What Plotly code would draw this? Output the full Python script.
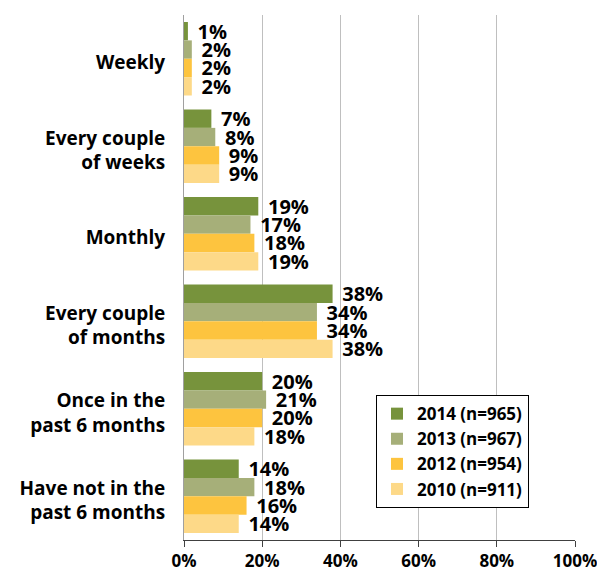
import plotly.graph_objects as go

categories = ["Weekly", "Every couple<br>of weeks", "Monthly", "Every couple<br>of months",
              "Once in the<br>past 6 months", "Have not in the<br>past 6 months"]
series_names = ["2014 (n=965)", "2013 (n=967)", "2012 (n=954)", "2010 (n=911)"]
values_2014 = [1, 7, 19, 38, 20, 14]
values_2013 = [2, 8, 17, 34, 21, 18]
values_2012 = [2, 9, 18, 34, 20, 16]
values_2010 = [2, 9, 19, 38, 18, 14]
colors = ["#77933C", "#A6AF79", "#FDC43F", "#FDD988"]
x_ticks = [0, 20, 40, 60, 80, 100]
x_tick_labels = ["0%", "20%", "40%", "60%", "80%", "100%"]

font_family = "'Open Sans', Lato, sans-serif"

fig = go.Figure()
for name, vals, col in zip(series_names, [values_2014, values_2013, values_2012, values_2010], colors):
    fig.add_trace(go.Bar(
        y=categories, x=vals, name=name, orientation="h",
        marker=dict(color=col, line=dict(width=0)),
        text=[f"\u2004{v}%" for v in vals], textposition="outside",
        textfont=dict(family=font_family, size=20, color="black", weight="bold"),
        constraintext="none", cliponaxis=False,
    ))

# page body has an 8px margin; figure sized so plot area lands where the reference has it
fig.update_layout(
    width=597, height=571,
    margin=dict(l=176, r=30, t=7, b=35),
    barmode="group", bargap=0.16, bargroupgap=0,
    plot_bgcolor="white", paper_bgcolor="white",
    font=dict(family=font_family, color="black"),
    legend=dict(x=0.491, y=0.276, xanchor="left", yanchor="top",
                bordercolor="black", borderwidth=1, bgcolor="white",
                font=dict(family=font_family, size=17, color="black", weight="bold"),
                traceorder="normal", itemwidth=30),
    showlegend=True,
)
fig.update_xaxes(range=[0, 100], tickvals=x_ticks, ticktext=x_tick_labels,
                 showgrid=True, gridcolor="#BFBFBF", gridwidth=1,
                 showline=True, linecolor="#404040", linewidth=1,
                 ticks="outside", ticklen=6, tickcolor="#404040",
                 tickfont=dict(family=font_family, size=17, color="black", weight="bold"),
                 zeroline=False, fixedrange=True)
fig.update_yaxes(autorange="reversed", showline=True, linecolor="#A0A0A0", linewidth=1,
                 ticks="", showgrid=False,
                 tickfont=dict(family=font_family, size=19, color="black", weight="bold"),
                 ticklabelstandoff=14, ticklabelshift=-4)

fig.write_html("out.html")
